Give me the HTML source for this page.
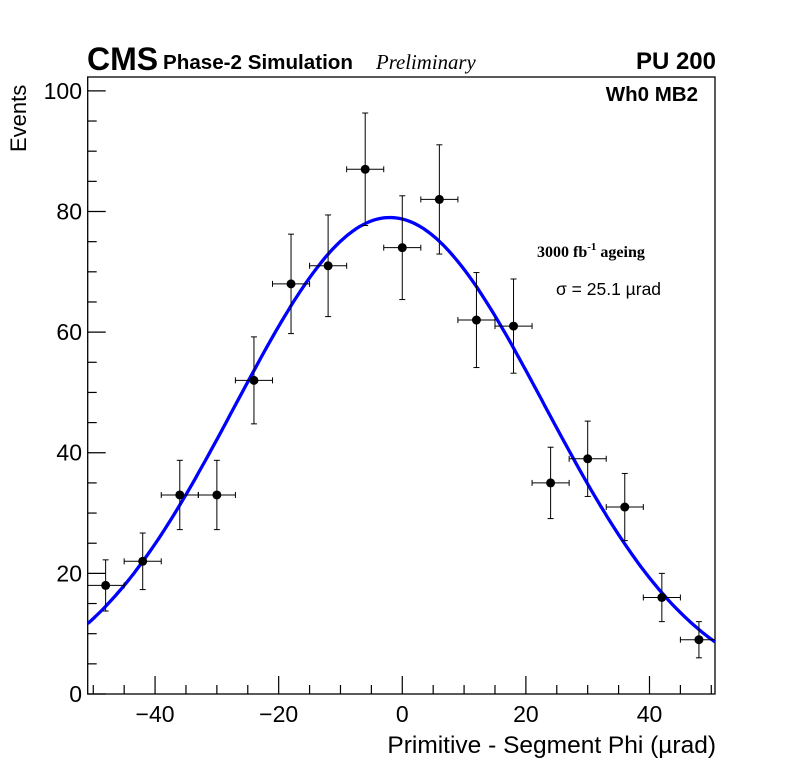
<!DOCTYPE html>
<html><head><meta charset="utf-8"><style>
body{margin:0;background:#fff;}
svg{display:block;font-family:"Liberation Sans",sans-serif;}
</style></head><body>
<svg id="c" width="796" height="772">
<rect width="796" height="772" fill="#fff"/>
<text x="87" y="70" font-size="32" font-weight="bold">CMS</text>
<text x="163" y="69" font-size="20.6" font-weight="bold">Phase-2 Simulation</text>
<text x="376" y="69" font-size="20.8" font-style="italic" font-family="Liberation Serif,serif">Preliminary</text>
<text x="716" y="69" font-size="24" font-weight="bold" text-anchor="end">PU 200</text>
<text x="698" y="101" font-size="20.5" font-weight="bold" text-anchor="end">Wh0 MB2</text>
<text x="537" y="257" font-size="16" font-weight="bold" font-family="Liberation Serif,serif">3000 fb<tspan dy="-7" font-size="11">-1</tspan><tspan dy="7"> ageing</tspan></text>
<text x="556" y="295" font-size="17.5">σ = 25.1 µrad</text>
<text x="716" y="753" font-size="24.5" text-anchor="end">Primitive - Segment Phi (µrad)</text>
<text transform="translate(26,152) rotate(-90)" font-size="22">Events</text>
<g id="g"></g>
</svg>
<script>
const xCenters=[-48,-42,-36,-30,-24,-18,-12,-6,0,6,12,18,24,30,36,42,48];
const counts=[18,22,33,33,52,68,71,87,74,82,62,61,35,39,31,16,9];
const xTicks=[-40,-20,0,20,40];
const yTicks=[0,20,40,60,80,100];
const fitAmp=79, fitMean=-2, fitSigma=25;
const L=87.7,R=715,T=77,B=694;
const xmin=-50.9,xmax=50.6,ymin=0,ymax=102.3;
const X=v=>L+(v-xmin)/(xmax-xmin)*(R-L);
const Y=v=>B-(v-ymin)/(ymax-ymin)*(B-T);
const NS="http://www.w3.org/2000/svg";
const g=document.getElementById('g');
function mk(t,a,p){const e=document.createElementNS(NS,t);for(const k in a)e.setAttribute(k,a[k]);(p||g).appendChild(e);return e;}
const fr=mk('rect',{x:L,y:T,width:R-L,height:B-T,fill:'none',stroke:'#000','stroke-width':1.3});


for(let v=-50;v<=50;v+=5){const maj=v%20===0;const e=mk('line',{x1:X(v),x2:X(v),y1:B,y2:B-(maj?18:9),stroke:'#000','stroke-width':1.2});

}
for(let v=0;v<=100;v+=5){const maj=v%20===0;const e=mk('line',{x1:L,x2:L+(maj?18:9),y1:Y(v),y2:Y(v),stroke:'#000','stroke-width':1.2});

}
xTicks.forEach(v=>{const t=mk('text',{x:X(v),y:722,'font-size':23,'text-anchor':'middle'});t.textContent=(v<0?'\u2212'+(-v):v);

});
yTicks.forEach(v=>{const t=mk('text',{x:82,y:Y(v)+8,'font-size':23,'text-anchor':'end'});t.textContent=v;

});
let d='';for(let x=xmin;x<=xmax+0.01;x+=0.5){const y=fitAmp*Math.exp(-((x-fitMean)**2)/(2*fitSigma*fitSigma));d+=(d?'L':'M')+X(x).toFixed(1)+','+Y(y).toFixed(1);}
const fit=mk('path',{d:d,fill:'none',stroke:'#0000ff','stroke-width':3.3});


xCenters.forEach((x,i)=>{const n=counts[i],e=Math.sqrt(n);
const gg=mk('g',{});


mk('line',{x1:Math.max(L,X(x-3)),x2:Math.min(R,X(x+3)),y1:Y(n),y2:Y(n),stroke:'#000','stroke-width':1},gg);
mk('line',{x1:X(x),x2:X(x),y1:Y(n-e),y2:Y(n+e),stroke:'#000','stroke-width':1},gg);
[n-e,n+e].forEach(v=>mk('line',{x1:X(x)-3,x2:X(x)+3,y1:Y(v),y2:Y(v),stroke:'#000','stroke-width':1},gg));
[x-3,x+3].forEach(v=>{if(X(v)>L&&X(v)<R)mk('line',{x1:X(v),x2:X(v),y1:Y(n)-3,y2:Y(n)+3,stroke:'#000','stroke-width':1},gg);});
mk('circle',{cx:X(x),cy:Y(n),r:4.5,fill:'#000'},gg);});
</script>
</body></html>
